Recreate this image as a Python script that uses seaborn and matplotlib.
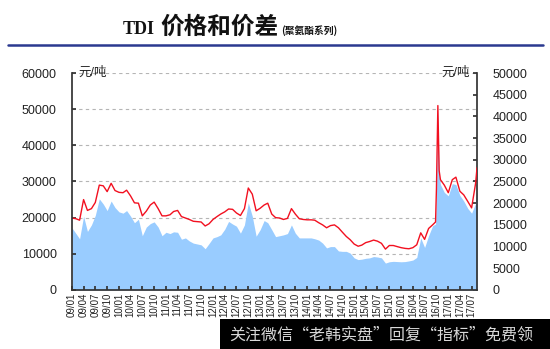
import matplotlib
matplotlib.use("Agg")
import matplotlib.pyplot as plt
from matplotlib.lines import Line2D
from matplotlib.patches import Rectangle
import numpy as np
import pandas as pd
import seaborn as sns

sns.set_theme(style="white")
plt.rcParams["font.family"] = ["Liberation Sans", "Noto Sans CJK SC", "DejaVu Sans"]

# Monthly TDI price (元/吨, left axis) and spread (元/吨, right axis), 2009/01 - 2017/08
months = pd.date_range("2009-01-01", "2017-08-01", freq="MS")
price = [
    19900, 19700, 19300, 25000, 22000, 22500, 24200, 29000, 28800, 27200, 29500, 27500,  # 2009
    27000, 26900, 27600, 26000, 24100, 24000, 20500, 21800, 23500, 24300, 22500, 20500,  # 2010
    20500, 20800, 21700, 22000, 20300, 19900, 19500, 19000, 18900, 18800, 17700, 18300,  # 2011
    19500, 20300, 21000, 21600, 22400, 22300, 21300, 20600, 22500, 28200, 26500, 21900,  # 2012
    22600, 23500, 24000, 21000, 20000, 19900, 19500, 19800, 22500, 21000, 19700, 19500,  # 2013
    19400, 19400, 19300, 18600, 18000, 17200, 17800, 18000, 17200, 16000, 14800, 13900,  # 2014
    12700, 12100, 12400, 13100, 13400, 13800, 13500, 12900, 11300, 12300, 12300, 12000,  # 2015
    11700, 11500, 11400, 11700, 12500, 15800, 14000, 17000, 18000, 28000, 30500, 29000,  # 2016
    26900, 30500, 31200, 27300, 26300, 24500, 22700, 29500,                              # 2017
]
spread = [
    14300, 13000, 11800, 17000, 13500, 15000, 17200, 21000, 19800, 18300, 20500, 19000,
    18000, 17700, 18300, 17000, 15500, 16300, 12500, 14500, 15300, 15700, 14500, 12500,
    13300, 13000, 13400, 13300, 11700, 12000, 11300, 10800, 10600, 10400, 9500, 10700,
    12000, 12300, 12700, 14000, 15800, 15200, 14700, 13100, 15000, 20100, 17000, 12400,
    13900, 16000, 15500, 13900, 12300, 12500, 12700, 13000, 15000, 13100, 12000, 12000,
    12000, 12000, 11800, 11500, 10800, 9700, 10000, 10000, 9000, 8900, 8900, 8500,
    7400, 7000, 7100, 7300, 7400, 7700, 7600, 7400, 6200, 6500, 6600, 6550,
    6500, 6550, 6700, 6900, 7500, 12000, 9800, 12500, 14800, 22000, 24300, 22500,
    21700, 24500, 24300, 21800, 20500, 18800, 17700, 20000,
]
# Additional mid-month observations around the October 2016 spike and the latest reading
extra_dates = ["2016-09-24", "2016-10-12", "2016-10-22", "2017-08-12"]
extra_price = [18800, 51000, 33000, 33800]
extra_spread = [15200, 41500, 26500, 22800]

df = pd.concat([
    pd.DataFrame({"date": months, "price": price, "spread": spread}),
    pd.DataFrame({"date": pd.to_datetime(extra_dates), "price": extra_price, "spread": extra_spread}),
]).sort_values("date").reset_index(drop=True)

tick_dates = pd.date_range("2009-01-01", "2017-07-01", freq="QS")
tick_labels = [d.strftime("%y/%m") for d in tick_dates]
left_ticks = np.arange(0, 60001, 10000)
right_ticks = np.arange(0, 50001, 5000)

fig = plt.figure(figsize=(5.5, 3.49), dpi=100)
fig.patch.set_facecolor("white")

# Bottom layer: dashed grid on the left scale
ax = fig.add_axes([0.1309, 0.1691, 0.7364, 0.6217])
# Middle layer: spread area on the right scale
ax_area = ax.twinx()
# Top layer: price line on the left scale
ax_line = ax.twinx()
ax_line.xaxis.set_visible(True)

ax_area.fill_between(df["date"], 0, df["spread"], color="#99CCFF", lw=0, zorder=1)
sns.lineplot(data=df, x="date", y="price", ax=ax_line, color="#F21020", lw=1.0)

xmin, xmax = df["date"].min(), df["date"].max()
for a in (ax, ax_area, ax_line):
    a.set_xlim(xmin, xmax)
    a.set_xlabel("")
    a.set_ylabel("")

ax.set_ylim(0, 60000)
ax.set_yticks(left_ticks)
ax.yaxis.grid(True, linestyle=(0, (3, 3)), color="#b5b5b5", lw=0.8)
ax.xaxis.grid(False)
ax.tick_params(left=False, right=False, bottom=False, labelleft=False, labelbottom=False, labelright=False)
for s in ax.spines.values():
    s.set_visible(False)

ax_area.set_ylim(0, 50000)
ax_area.set_yticks(right_ticks)
ax_area.set_yticklabels([str(v) for v in right_ticks], fontsize=9, color="#222222")
ax_area.tick_params(axis="y", right=True, direction="in", length=3, pad=11, color="#333333")
ax_area.tick_params(axis="x", bottom=False, labelbottom=False)
for name, s in ax_area.spines.items():
    s.set_visible(name == "right")
ax_area.spines["right"].set_color("#333333")
ax_area.grid(False)

ax_line.set_ylim(0, 60000)
ax_line.yaxis.tick_left()
ax_line.set_yticks(left_ticks)
ax_line.set_yticklabels([str(v) for v in left_ticks], fontsize=9, color="#222222")
ax_line.tick_params(axis="y", left=True, right=False, labelright=False, labelleft=True,
                    direction="in", length=3, pad=11, color="#333333")
ax_line.set_xticks(tick_dates)
ax_line.set_xticklabels(tick_labels, rotation=90, fontsize=7, color="#222222")
ax_line.tick_params(axis="x", bottom=True, labelbottom=True, direction="in", length=3, pad=2,
                    color="#333333")
for name, s in ax_line.spines.items():
    s.set_visible(name in ("left", "bottom"))
    s.set_color("#333333")
ax_line.grid(False)

ax_line.text(0.017, 1.0, "元/吨", transform=ax_line.transAxes, ha="left", va="center",
             fontsize=9, color="#222222")
ax_line.text(0.983, 1.0, "元/吨", transform=ax_line.transAxes, ha="right", va="center",
             fontsize=9, color="#222222")

# Title
base_y = 1 - 34 / 349
fig.text(0.2236, base_y, "TDI", family="Liberation Serif", weight="bold", fontsize=13,
         va="baseline", color="#111111")
fig.text(0.291, base_y, "价格和价差", family="Noto Sans CJK SC", weight="bold", fontsize=17,
         va="baseline", color="#111111")
fig.text(0.512, base_y, "(聚氨酯系列)", family="Noto Sans CJK SC", weight="bold", fontsize=7,
         va="baseline", color="#111111")
fig.add_artist(Line2D([8 / 550, 543 / 550], [1 - 45 / 349] * 2, color="#2B3990", lw=1.8))

# Footer banner
fig.add_artist(Rectangle((220 / 550, 0), 330 / 550, 30 / 349, transform=fig.transFigure,
                         facecolor="black", edgecolor="none"))
fig.text(229 / 550, 1 - 335 / 349, "关注微信“老韩实盘”回复“指标”免费领",
         family="Noto Sans CJK SC", fontsize=11.5, color="#d8d8d8", va="center", ha="left")

fig.savefig("out.png", dpi=100)
